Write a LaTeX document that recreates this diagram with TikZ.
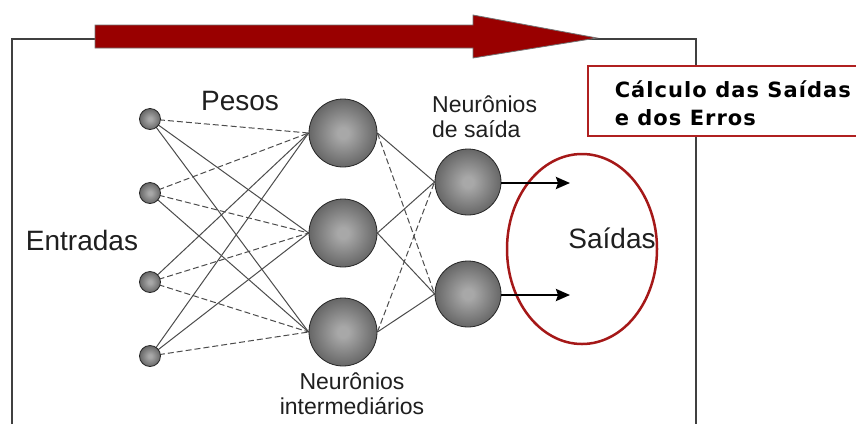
\documentclass[tikz,border=0pt]{standalone}
\usepackage{fontspec}
\setmainfont{Liberation Sans}
\newfontfamily\verd[LetterSpace=5]{DejaVu Sans}
\usetikzlibrary{arrows.meta,backgrounds}
\definecolor{sphc}{HTML}{A8A8A8}
\definecolor{sphm}{HTML}{6A6A6A}
\definecolor{sphe}{HTML}{333333}
\definecolor{arrred}{HTML}{990000}
\definecolor{ellred}{HTML}{A51818}
\definecolor{boxred}{HTML}{B02020}
\pgfdeclareradialshading{ballshade}{\pgfpoint{0bp}{0bp}}{color(0bp)=(sphc); color(4bp)=(sphc); color(24bp)=(sphm); color(40bp)=(sphe); color(50bp)=(sphe)}
\tikzset{
  ball/.style={circle, shading=ballshade, draw=black!85, line width=0.8pt, inner sep=0pt},
  inp/.style={ball, minimum size=21pt},
  hid/.style={ball, minimum size=68pt},
  outn/.style={ball, minimum size=66pt},
  wsolid/.style={draw=black!70, line width=1pt},
  wdash/.style={wsolid, dash pattern=on 6pt off 3pt},
  lbl/.style={font=\fontsize{28}{30}\selectfont, inner sep=0pt, text=black!88},
  slbl/.style={font=\fontsize{23}{25}\selectfont, inner sep=0pt, text=black!88},
  frame/.style={draw=black!75, line width=1.8pt},
  bigarrow/.style={fill=arrred, draw=black!55, line width=0.8pt},
  calcbox/.style={draw=boxred, line width=1.6pt, fill=white, inner xsep=13pt, inner ysep=0pt, align=left,
    font=\verd\bfseries\fontsize{21}{28}\selectfont},
  outarrow/.style={draw=black, line width=2.4pt, -{Stealth[length=14pt,width=12pt,inset=2pt]}}
}
\begin{document}
\begin{tikzpicture}[x=1pt,y=-1pt]
\useasboundingbox (0,0) rectangle (856,424);
% frame
\draw[frame] (12,424) |- (696,39) -- (696,424);
% big red arrow
\draw[bigarrow] (95,25) -- (473,25) -- (473,15) -- (597,38) -- (473,58) -- (473,48) -- (95,48) -- cycle;
% label box
\node[calcbox, anchor=north west, minimum width=290pt, minimum height=70pt] (calc) at (587,65) {\rule{0pt}{22.5pt}Cálculo das Saídas\\e dos Erros};
% ellipse
\draw[ellred, line width=2.5pt] (582,249) ellipse [x radius=75pt, y radius=95pt];
% neurons
\node[inp] (i1) at (150,119) {};
\node[inp] (i2) at (150,193) {};
\node[inp] (i3) at (150,282) {};
\node[inp] (i4) at (150,356) {};
\node[hid] (h1) at (343,133) {};
\node[hid] (h2) at (343,233) {};
\node[hid] (h3) at (343,332) {};
\node[outn] (o1) at (468,182) {};
\node[outn] (o2) at (468,294) {};
% weights
\begin{scope}[on background layer]
\fill[white] (0,0) rectangle (856,424);
\draw[wdash]  (i1.center) -- (h1.west);
\draw[wsolid] (i1.center) -- (h2.west);
\draw[wsolid] (i1.center) -- (h3.west);
\draw[wdash]  (i2.center) -- (h1.west);
\draw[wdash]  (i2.center) -- (h2.west);
\draw[wsolid] (i2.center) -- (h3.west);
\draw[wsolid] (i3.center) -- (h1.west);
\draw[wdash]  (i3.center) -- (h2.west);
\draw[wdash]  (i3.center) -- (h3.west);
\draw[wsolid] (i4.center) -- (h1.west);
\draw[wsolid] (i4.center) -- (h2.west);
\draw[wdash]  (i4.center) -- (h3.west);
\draw[wsolid] (h1.east) -- (o1.west);
\draw[wdash]  (h1.east) -- (o2.west);
\draw[wsolid] (h2.east) -- (o1.west);
\draw[wsolid] (h2.east) -- (o2.west);
\draw[wdash]  (h3.east) -- (o1.west);
\draw[wsolid] (h3.east) -- (o2.west);
\end{scope}
% output arrows
\coordinate (a1) at (570,183);
\coordinate (a2) at (570,295);
\draw[outarrow] (o1.east |- a1) -- (a1);
\draw[outarrow] (o2.east |- a2) -- (a2);
% labels
\node[lbl, anchor=base] (entradas) at (82,250) {Entradas};
\node[lbl, anchor=base] (pesos) at (240,110) {Pesos};
\node[lbl, anchor=base] (saidas) at (612,248) {Saídas};
\node[slbl, anchor=base west, align=left] (nsaida) at (432,137) {Neurônios\\de saída};
\node[slbl, anchor=base, align=center] (ninter) at (352,414) {Neurônios\\intermediários};
\end{tikzpicture}
\end{document}
